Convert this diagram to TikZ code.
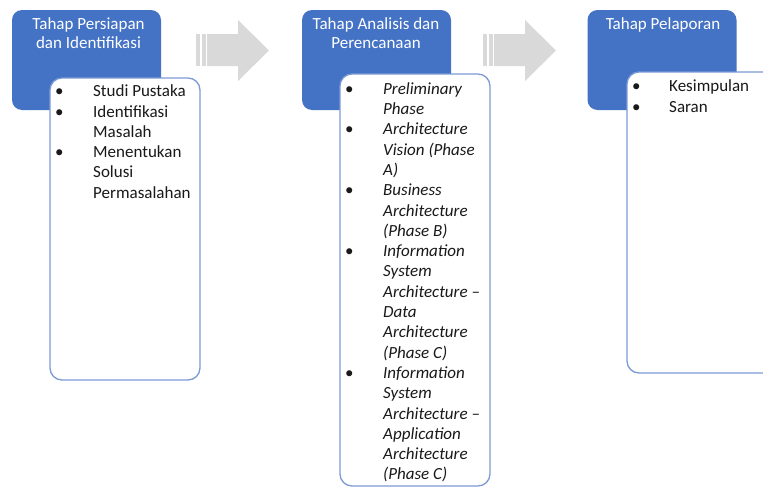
\documentclass[tikz,border=0pt]{standalone}
\usepackage{fontspec}
\setmainfont{Carlito}
\usepackage{array}
\definecolor{stageblue}{HTML}{4472C4}
\definecolor{listedge}{HTML}{7C9BD6}
\definecolor{arrowgray}{HTML}{D9D9D9}
\tikzset{
  stagehead/.style={fill=stageblue, draw=none, rounded corners=10pt, inner sep=0pt,
    minimum width=149pt, minimum height=100pt},
  stagelist/.style={fill=white, draw=listedge, line width=1.3pt, rounded corners=12pt, inner sep=0pt},
  stagetitle/.style={anchor=north, inner sep=0pt, text=white, font=\fontsize{17}{19}\selectfont},
  listtext/.style={anchor=north west, inner sep=0pt, text=black!90, font=\fontsize{17}{20.3}\selectfont},
  stagearrow/.pic={
    \fill[arrowgray] (11,34) -- (42,34) -- (42,20) -- (73,50.5) -- (42,81) -- (42,66) -- (11,66) -- cycle;
    \fill[arrowgray] (0,34) rectangle (4,66);
    \fill[arrowgray] (5.5,34) rectangle (9.5,66);
  }
}
\begin{document}
\begin{tikzpicture}[x=1pt, y=-1pt]
\useasboundingbox (0,0) rectangle (763,490);
\clip (0,0) rectangle (763,490);

% block arrows between the stages
\pic (a1) at (196,0) {stagearrow};
\pic (a2) at (483,0) {stagearrow};

% stage headers
\node[stagehead] (h1) at (86.5,60) {};
\node[stagehead] (h2) at (376.5,60) {};
\node[stagehead] (h3) at (662,60) {};

\node[stagetitle] (t1) at (88.5,16) {\begin{tabular}{@{}c@{}}Tahap Persiapan\\dan Identifikasi\end{tabular}};
\node[stagetitle] (t2) at (376,16) {\begin{tabular}{@{}c@{}}Tahap Analisis dan\\Perencanaan\end{tabular}};
\node[stagetitle] (t3) at (663,16) {\begin{tabular}{@{}c@{}}Tahap Pelaporan\end{tabular}};

% activity lists
\node[stagelist, minimum width=150pt, minimum height=302pt] (l1) at (125,229) {};
\node[stagelist, minimum width=150pt, minimum height=412pt] (l2) at (415,280) {};
\node[stagelist, minimum width=180pt, minimum height=301pt] (l3) at (717,222.5) {};

\node[listtext] (i1) at (55,82.3) {\begin{tabular}{@{}p{38pt}@{}l@{}}
\textbullet & Studi Pustaka\\
\textbullet & Identifikasi\\
 & Masalah\\
\textbullet & Menentukan\\
 & Solusi\\
 & Permasalahan
\end{tabular}};

\node[listtext] (i2) at (345,79.8) {\begin{tabular}{@{}p{38pt}@{}>{\itshape}l@{}}
\textbullet & Preliminary\\
 & Phase\\
\textbullet & Architecture\\
 & Vision (Phase\\
 & A)\\
\textbullet & Business\\
 & Architecture\\
 & (Phase B)\\
\textbullet & Information\\
 & System\\
 & Architecture –\\
 & Data\\
 & Architecture\\
 & (Phase C)\\
\textbullet & Information\\
 & System\\
 & Architecture –\\
 & Application\\
 & Architecture\\
 & (Phase C)
\end{tabular}};

\node[listtext] (i3) at (632,77.5) {\begin{tabular}{@{}p{37pt}@{}l@{}}
\textbullet & Kesimpulan\\
\textbullet & Saran
\end{tabular}};
\end{tikzpicture}
\end{document}
